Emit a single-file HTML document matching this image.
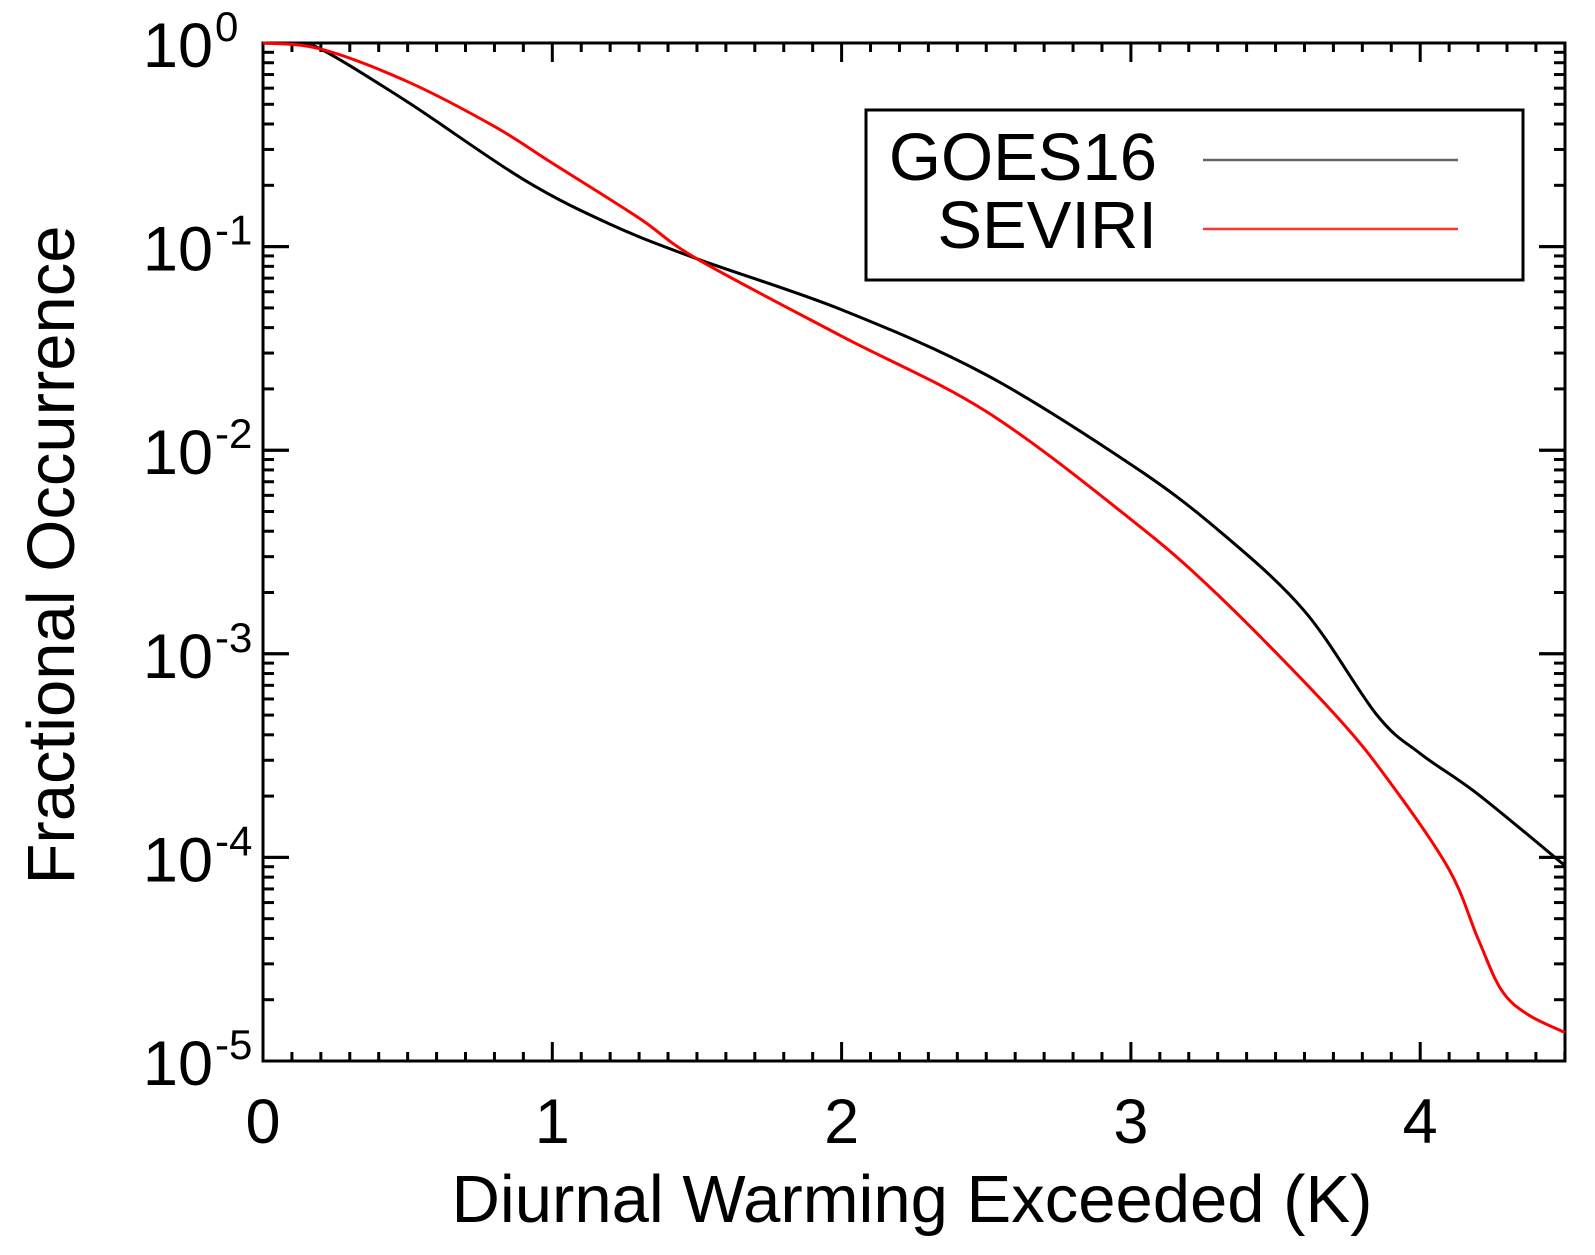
<!DOCTYPE html>
<html><head><meta charset="utf-8"><style>
html,body{margin:0;padding:0;background:#fff;}
svg{display:block;font-family:"Liberation Sans",sans-serif;}
</style></head><body>
<svg id="s" width="1595" height="1255" viewBox="0 0 1595 1255" xmlns="http://www.w3.org/2000/svg">
<rect width="1595" height="1255" fill="#fff"/>
<g id="ticks" stroke="#000" stroke-width="3"></g>
<rect x="263" y="43" width="1302" height="1018" fill="none" stroke="#000" stroke-width="3"/>
<g id="labels" fill="#000"></g>
<path id="black" fill="none" stroke="#000" stroke-width="3"/>
<path id="red" fill="none" stroke="#ff0000" stroke-width="3"/>
<rect x="866" y="110" width="657" height="170" fill="#fff" stroke="#000" stroke-width="3"/>
<text x="1157" y="180" font-size="67" text-anchor="end">GOES16</text>
<text x="1157" y="248" font-size="67" text-anchor="end">SEVIRI</text>
<line x1="1203" y1="160" x2="1458" y2="160" stroke="#000" stroke-width="2.5" opacity="0.6"/>
<line x1="1203" y1="229" x2="1458" y2="229" stroke="#ff0000" stroke-width="2.5" opacity="0.8"/>
<text x="912" y="1222" font-size="67" text-anchor="middle">Diurnal Warming Exceeded (K)</text>
<text transform="translate(74,555) rotate(-90)" font-size="67" text-anchor="middle">Fractional Occurrence</text>
</svg>
<script>
var X0=263,SX=289.3,Y0=43,SY=203.6;
function px(x){return X0+x*SX;} function py(l){return Y0-l*SY;}
var t=document.getElementById('ticks'),L=document.getElementById('labels'),ns="http://www.w3.org/2000/svg";
function ln(a,b,c,d){var e=document.createElementNS(ns,'line');e.setAttribute('x1',a);e.setAttribute('y1',b);e.setAttribute('x2',c);e.setAttribute('y2',d);t.appendChild(e);}
for(var i=0;i<=45;i++){var x=px(i/10),len=(i%10==0)?19:9;ln(x,1061,x,1061-len);ln(x,43,x,43+len);}
for(var d=0;d<5;d++){for(var k=1;k<=10;k++){var y=py(-d-1+Math.log10(k)),len=(k==1||k==10)?26:11;ln(263,y,263+len,y);ln(1565,y,1565-len,y);}}
for(var i=0;i<=4;i++){var e=document.createElementNS(ns,'text');e.setAttribute('x',px(i));e.setAttribute('y',1143);e.setAttribute('text-anchor','middle');e.setAttribute('font-size','63');e.textContent=i;L.appendChild(e);}
for(var d=0;d<=5;d++){var y=py(-d)+24;var e=document.createElementNS(ns,'text');e.setAttribute('x',213);e.setAttribute('y',y);e.setAttribute('text-anchor','end');e.setAttribute('font-size','63');e.textContent='10';L.appendChild(e);
var s=document.createElementNS(ns,'text');s.setAttribute('x',215);s.setAttribute('y',y-26);s.setAttribute('font-size','42');s.textContent=d==0?'0':'-'+d;L.appendChild(s);}
function path(pts){var P=pts.map(function(p){return [px(p[0]),py(p[1])];});var s='M'+P[0][0]+','+P[0][1];
for(var i=0;i<P.length-1;i++){var p0=P[i-1]||P[i],p1=P[i],p2=P[i+1],p3=P[i+2]||P[i+1];
s+=' C'+(p1[0]+(p2[0]-p0[0])/6)+','+(p1[1]+(p2[1]-p0[1])/6)+' '+(p2[0]-(p3[0]-p1[0])/6)+','+(p2[1]-(p3[1]-p1[1])/6)+' '+p2[0]+','+p2[1];}return s;}
var blk=[[0,0],[0.1,-0.005],[0.2,-0.03],[0.5,-0.29],[0.9,-0.67],[1.2,-0.89],[1.5,-1.06],[2.0,-1.31],[2.5,-1.63],[3.0,-2.07],[3.3,-2.39],[3.6,-2.79],[3.85,-3.3],[4.0,-3.49],[4.2,-3.69],[4.5,-4.04]];
var red=[[0,0],[0.2,-0.03],[0.5,-0.19],[0.8,-0.41],[1.0,-0.59],[1.3,-0.86],[1.5,-1.06],[2.0,-1.44],[2.5,-1.81],[3.0,-2.34],[3.3,-2.71],[3.7,-3.29],[3.9,-3.64],[4.1,-4.06],[4.2,-4.4],[4.28,-4.65],[4.37,-4.77],[4.5,-4.86]];
document.getElementById('black').setAttribute('d',path(blk));
document.getElementById('red').setAttribute('d',path(red));
</script>
</body></html>
